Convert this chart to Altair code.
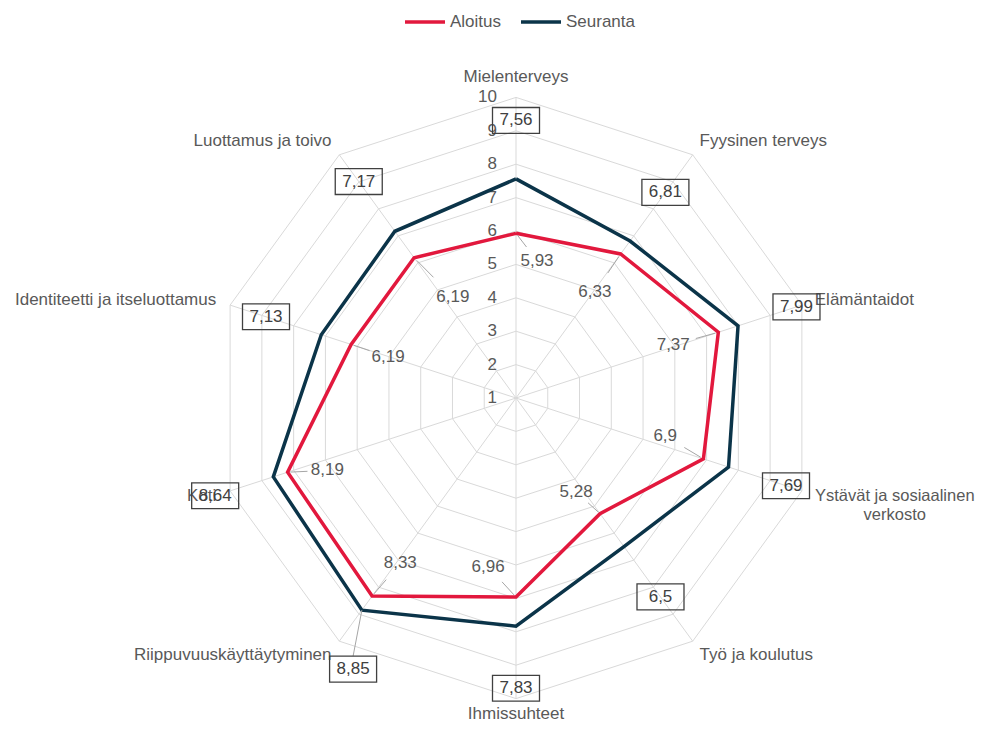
import altair as alt
import pandas as pd

# ---- data ----
categories = [
    "Mielenterveys", "Fyysinen terveys", "Elämäntaidot",
    "Ystävät ja sosiaalinen\nverkosto", "Työ ja koulutus", "Ihmissuhteet",
    "Riippuvuuskäyttäytyminen", "Koti", "Identiteetti ja itseluottamus",
    "Luottamus ja toivo",
]
aloitus = [5.93, 6.33, 7.37, 6.9, 5.28, 6.96, 8.33, 8.19, 6.19, 6.19]
seuranta = [7.56, 6.81, 7.99, 7.69, 6.5, 7.83, 8.85, 8.64, 7.13, 7.17]
ticks = [1, 2, 3, 4, 5, 6, 7, 8, 9, 10]
series_names = ["Aloitus", "Seuranta"]

# ---- label placement styles (radial shift in axis units, angular shift in degrees) ----
alo_dr = [-0.77, -1.38, -1.40, -1.29, -0.94, -0.84, -1.29, -1.14, -1.17, -1.62]
alo_dang = [8.7, 0.7, -0.7, -3.7, 3.4, 9.4, -1.0, -3.0, -0.2, 4.0]
seu_dr = [1.75, 1.8, 1.84, 1.81, 1.86, 1.86, 1.62, 1.83, 1.74, 1.84]
seu_dang = [0, 0, 0, 0, 0, 0, -5, 0, 0, 0]
seu_leader = [0, 0, 0, 0, 0, 0, 1, 0, 0, 0]

# ---- style ----
RED = "#E2183D"
NAVY = "#0B3449"
GRID = "#D9D9D9"
TXT = "#595959"
FONT = "Liberation Sans"
FS = 17
N = len(categories)
UNIT = 33.4
W, H = 970, 715
CX, CY = 508, 390

xs = alt.Scale(domain=[-CX / UNIT, (W - CX) / UNIT], nice=False, zero=False)
ys = alt.Scale(domain=[-(H - CY) / UNIT, CY / UNIT], nice=False, zero=False)
X = alt.X("px:Q", scale=xs, axis=None)
Y = alt.Y("py:Q", scale=ys, axis=None)


def polar(chart, rexpr, prefix="p", dang="0"):
    ang = f"(datum.idx*36+({dang}))*PI/180"
    return chart.transform_calculate(
        **{prefix + "x": f"({rexpr})*sin({ang})", prefix + "y": f"({rexpr})*cos({ang})"}
    )


# ---- tables ----
rows = []
for s, vals in zip(series_names, [aloitus, seuranta]):
    for k in range(N + 1):
        i = k % N
        rows.append({"series": s, "idx": i, "ord": k, "value": vals[i],
                     "lab": str(vals[i]).replace(".", ",")})
series_df = pd.DataFrame(rows)
pts_df = series_df[series_df["ord"] < N].copy()
style_df = pd.DataFrame({"idx": list(range(N)), "adr": alo_dr, "adang": alo_dang,
                         "sdr": seu_dr, "sdang": seu_dang, "slead": seu_leader})
pts_df = pts_df.merge(style_df, on="idx")

ring_df = pd.DataFrame([{"ring": t, "ord": k, "idx": k % N}
                        for t in ticks[1:] for k in range(N + 1)])
cat_df = pd.DataFrame([{"idx": i, "cat": c} for i, c in enumerate(categories)])
tick_df = pd.DataFrame({"t": ticks, "idx": 0})

# ---- layers ----
rings = polar(alt.Chart(ring_df), "datum.ring-1").mark_line(
    color=GRID, strokeWidth=1).encode(x=X, y=Y, detail="ring:N", order="ord:Q")

spokes = polar(alt.Chart(cat_df), "9").transform_calculate(cx="0", cy="0").mark_rule(
    color=GRID, strokeWidth=1).encode(x=X, y=Y, x2="cx:Q", y2="cy:Q")

tick_labels = alt.Chart(tick_df).transform_calculate(px="0", py="datum.t-1").mark_text(
    align="right", baseline="middle", dx=-19, font=FONT, fontSize=FS, color=TXT
).encode(x=X, y=Y, text="t:Q")

lines = polar(alt.Chart(series_df), "datum.value-1").mark_line(
    strokeWidth=3.5, strokeJoin="miter").encode(
    x=X, y=Y, order="ord:Q",
    color=alt.Color("series:N", scale=alt.Scale(domain=series_names, range=[RED, NAVY]),
                    legend=alt.Legend(title=None, orient="none", legendX=395, legendY=-8,
                                      direction="horizontal", symbolType="stroke",
                                      symbolSize=1600, symbolStrokeWidth=3.5,
                                      labelFont=FONT, labelFontSize=FS, labelColor=TXT,
                                      labelOffset=3, columnPadding=12, padding=0)))


def cat_layer(filt, align, r="9.5", dx=0, fs=FS):
    return polar(alt.Chart(cat_df).transform_filter(filt), r).mark_text(
        align=align, baseline="middle", font=FONT, fontSize=fs, color=TXT,
        lineBreak="\n", dx=dx
    ).encode(x=X, y=Y, text="cat:N")


cat_right = cat_layer("datum.idx==1 || datum.idx==2 || datum.idx==4", "left", dx=-3)
cat_friends = cat_layer("datum.idx==3", "center", dx=77, fs=16.5)
cat_left = cat_layer("datum.idx>=6", "right", dx=2)
cat_top = cat_layer("datum.idx==0", "center", r="9.6")
cat_bottom = cat_layer("datum.idx==5", "center", r="9.45")

alo = alt.Chart(pts_df).transform_filter("datum.series=='Aloitus'")
alo_pos = polar(polar(alo, "datum.value-1", "q"), "datum.value-1+datum.adr", "l", "datum.adang")
alo_leader = alo_pos.transform_calculate(
    px="datum.lx+0.5*(datum.qx-datum.lx)", py="datum.ly+0.5*(datum.qy-datum.ly)",
    ex="datum.lx+0.93*(datum.qx-datum.lx)", ey="datum.ly+0.93*(datum.qy-datum.ly)",
).mark_rule(color="#A6A6A6", strokeWidth=1).encode(x=X, y=Y, x2="ex:Q", y2="ey:Q")
alo_text = alo_pos.transform_calculate(px="datum.lx", py="datum.ly").mark_text(
    align="center", baseline="middle", font=FONT, fontSize=FS, color=TXT
).encode(x=X, y=Y, text="lab:N")

seu = polar(alt.Chart(pts_df).transform_filter("datum.series=='Seuranta'"),
            "datum.value-1+datum.sdr", "p", "datum.sdang")
seu_leader_l = polar(seu.transform_filter("datum.slead==1"), "datum.value-1", "q").transform_calculate(
    sy="datum.py+13/33.4").mark_rule(color="#A6A6A6", strokeWidth=1).encode(
    x=X, y=alt.Y("sy:Q", scale=ys, axis=None), x2="qx:Q", y2="qy:Q")
seu_box = seu.mark_point(shape="M-1,-0.55H1V0.55H-1Z", size=47 * 47, filled=False,
                         stroke="#404040", strokeWidth=1.3,
                         opacity=1, strokeOpacity=1).encode(x=X, y=Y)
seu_text = seu.mark_text(align="center", baseline="middle", font=FONT, fontSize=FS,
                         color="#404040").encode(x=X, y=Y, text="lab:N")

chart = alt.layer(
    rings, spokes, tick_labels, cat_right, cat_friends, cat_left, cat_top, cat_bottom,
    lines, alo_leader, alo_text, seu_leader_l, seu_box, seu_text
).properties(
    width=W, height=H, padding=0, autosize=alt.AutoSizeParams(type="none")
).configure_view(stroke=None)

chart.save("out.html", embed_options={"renderer": "svg", "actions": False})
